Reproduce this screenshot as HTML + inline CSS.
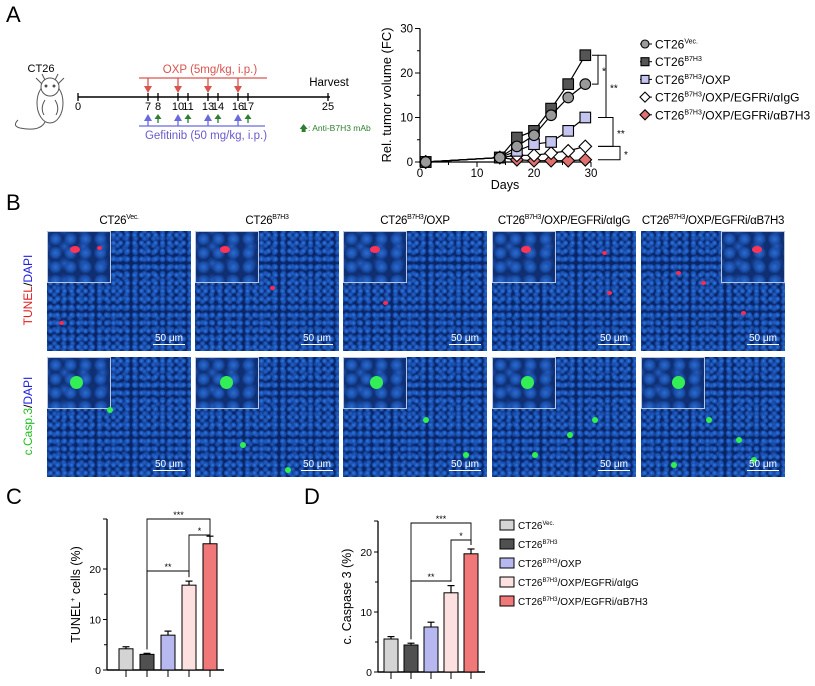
<!DOCTYPE html>
<html><head><meta charset="utf-8">
<style>
body{margin:0;background:#fff;width:815px;height:686px;overflow:hidden;font-family:"Liberation Sans",Arial,sans-serif;}
svg{position:absolute;left:0;top:0}
.img{position:absolute;background-color:#0a2566;
background-image:radial-gradient(circle,#2f7ae0 0,#1c58bd 1.8px,rgba(0,0,0,0) 3.2px),radial-gradient(circle,#2766cc 0,#174aa6 2px,rgba(0,0,0,0) 3.4px),radial-gradient(circle,#1f5ec6 0,#123e92 2.2px,rgba(0,0,0,0) 3.6px);
background-size:7px 8px,9px 7px,11px 10px;background-position:0 0,3px 4px,6px 2px;}
.inset{position:absolute;border:1px solid #b9c6e0;background-color:#0f2f72;
background-image:radial-gradient(circle,#2d6ccc 0,#1b52b0 4px,rgba(0,0,0,0) 7px),radial-gradient(circle,#245fc0 0,#163f90 4px,rgba(0,0,0,0) 7px);background-size:15px 14px,19px 17px;background-position:0 0,7px 6px;}
.spot{position:absolute;border-radius:50%}
.sb{position:absolute;color:#fff;font-size:10px;border-bottom:1.5px solid #fff;padding:0 2px;line-height:11px}
.ttl{position:absolute;font-size:11.5px;letter-spacing:-0.3px;top:214px;text-align:center;white-space:nowrap}
sup{font-size:7px}
</style></head><body>
<div style="position:absolute;left:6px;top:2px;font-size:22px">A</div>
<div style="position:absolute;left:6px;top:190px;font-size:22px">B</div>
<div style="position:absolute;left:6px;top:484px;font-size:22px">C</div>
<div style="position:absolute;left:304px;top:484px;font-size:22px">D</div>

<svg width="815" height="686" id="main">
<g font-size="9.5" text-anchor="middle">
<text x="41" y="72" font-size="11">CT26</text>
<g fill="#fff" stroke="#555" stroke-width="1">
<ellipse cx="50" cy="103" rx="13" ry="20"/><ellipse cx="50" cy="87" rx="9" ry="9"/>
<path d="M42 84 L36 78 M58 84 L64 78 M45 80 L42 74 M55 80 L58 74" fill="none"/>
<path d="M45 100 Q40 108 44 115 M55 100 Q60 108 56 115" fill="none"/>
<path d="M45 122 Q40 132 20 128 Q12 126 18 120" fill="none"/>
<circle cx="46" cy="86" r="1" fill="#333"/><circle cx="54" cy="86" r="1" fill="#333"/></g>
<line x1="78" y1="97" x2="330" y2="97" stroke="#000" stroke-width="1.5"/>
<text x="210" y="73" fill="#d9534f" font-size="11.5">OXP (5mg/kg, i.p.)</text>
<line x1="139" y1="78" x2="267" y2="78" stroke="#d9534f" stroke-width="1.3"/>
<text x="206" y="139" fill="#6a5acd" font-size="11.5">Gefitinib (50 mg/kg, i.p.)</text>
<line x1="139" y1="126" x2="265" y2="126" stroke="#6a6ae0" stroke-width="1.3"/>
<text x="329" y="86" font-size="11.5">Harvest</text>
<text x="335" y="131" fill="#2e7d32" font-size="8.5">🡅: Anti-B7H3 mAb</text>
<g id="tl"></g>
</g>
<g id="lineChart"></g>
<g id="barC"></g>
<g id="barD"></g>
</svg>

<div id="imgs"></div>

<script>
const NS='http://www.w3.org/2000/svg';
function mk(p,tag,at){const e=document.createElementNS(NS,tag);for(const k in at)e.setAttribute(k,at[k]);p.appendChild(e);return e;}
const tlDays=[0,7,8,10,11,13,14,16,17,25];
const oxpDays=[7,10,13,16];
const mabDays=[8,11,14,17];
const tl=document.getElementById('tl');
const tx=d=>78+d*10;
tlDays.forEach(d=>{mk(tl,'line',{x1:tx(d),y1:93,x2:tx(d),y2:101,stroke:'#000','stroke-width':1.3});const t=mk(tl,'text',{x:tx(d),y:110,'font-size':11});t.textContent=d;});
oxpDays.forEach(d=>{mk(tl,'line',{x1:tx(d),y1:78,x2:tx(d),y2:88,stroke:'#d9534f','stroke-width':1.3});mk(tl,'path',{d:`M${tx(d)-4} 86 L${tx(d)+4} 86 L${tx(d)} 93 Z`,fill:'#d9534f'});
 mk(tl,'line',{x1:tx(d),y1:126,x2:tx(d),y2:119,stroke:'#6a6ae0','stroke-width':1.3});mk(tl,'path',{d:`M${tx(d)-4} 121 L${tx(d)+4} 121 L${tx(d)} 114 Z`,fill:'#6a6ae0'});});
mabDays.forEach(d=>{mk(tl,'line',{x1:tx(d),y1:123,x2:tx(d),y2:118,stroke:'#2e7d32','stroke-width':1.3});mk(tl,'path',{d:`M${tx(d)-3.5} 119 L${tx(d)+3.5} 119 L${tx(d)} 114 Z`,fill:'#2e7d32'});});

const days=[1,14,17,20,23,26,29];
const sVec=[0,1,3.5,6,10.5,14.5,17.5];
const sB7=[0,1,5.5,7,12,17.5,24];
const sOxp=[0,1,2.5,4,4.5,7,10];
const sIgG=[0,1,1.5,1.5,2,2.5,3.5];
const sAb=[0,1,0.5,0.3,0.3,0.3,0.5];
const lyTicks=[0,10,20,30];
const lxTicks=[0,10,20,30];
const L=document.getElementById('lineChart');
const lx=d=>420+d*5.7, ly=v=>162-v*4.45;
mk(L,'line',{x1:420,y1:ly(30),x2:420,y2:ly(0),stroke:'#000','stroke-width':1.2});
mk(L,'line',{x1:420,y1:ly(0),x2:lx(30),y2:ly(0),stroke:'#000','stroke-width':1.2});
lyTicks.forEach(v=>{mk(L,'line',{x1:415,y1:ly(v),x2:420,y2:ly(v),stroke:'#000'});const t=mk(L,'text',{x:413,y:ly(v)+4,'font-size':11.5,'text-anchor':'end'});t.textContent=v;});
[5,15,25].forEach(v=>mk(L,'line',{x1:417,y1:ly(v),x2:420,y2:ly(v),stroke:'#000'}));
lxTicks.forEach(v=>{mk(L,'line',{x1:lx(v),y1:ly(0),x2:lx(v),y2:ly(0)+5,stroke:'#000'});const t=mk(L,'text',{x:lx(v),y:177,'font-size':11.5,'text-anchor':'middle'});t.textContent=v;});
[5,15,25].forEach(v=>mk(L,'line',{x1:lx(v),y1:ly(0),x2:lx(v),y2:ly(0)+3,stroke:'#000'}));
let t=mk(L,'text',{x:505,y:189,'font-size':12.5,'text-anchor':'middle'});t.textContent='Days';
t=mk(L,'text',{x:0,y:0,'font-size':13,'text-anchor':'middle',transform:'translate(391,95) rotate(-90)'});t.textContent='Rel. tumor volume (FC)';
function marker(g,shape,x,y,fill,r){
 if(shape==='c')return mk(g,'circle',{cx:x,cy:y,r:r,fill:fill,stroke:'#000','stroke-width':1.1});
 if(shape==='s')return mk(g,'rect',{x:x-r,y:y-r,width:2*r,height:2*r,fill:fill,stroke:'#000','stroke-width':1.1});
 return mk(g,'path',{d:`M${x} ${y-r-1} L${x+r+1} ${y} L${x} ${y+r+1} L${x-r-1} ${y} Z`,fill:fill,stroke:'#000','stroke-width':1.1});}
const series=[['series-ct26-vec',sVec,'c','#9a9a9a'],['series-ct26-b7h3',sB7,'s','#555'],['series-oxp',sOxp,'s','#c4c4f0'],['series-egfri-aigg',sIgG,'d','#fff'],['series-egfri-ab7h3',sAb,'d','#e07070']];
[...series].reverse().forEach(s=>{const g=mk(L,'g',{});
 mk(g,'polyline',{points:days.map((d,i)=>lx(d)+','+ly(s[1][i])).join(' '),fill:'none',stroke:'#000','stroke-width':1.2});
 days.forEach((d,i)=>marker(g,s[2],lx(d),ly(s[1][i]),s[3],5.3));});
function br(g,x,y1,y2,lab,xe){mk(g,'path',{d:`M${xe||x-6} ${y1} H${x} V${y2} H${xe||x-6}`,fill:'none',stroke:'#000','stroke-width':1});const tt=mk(g,'text',{x:x+4,y:(y1+y2)/2+5,'font-size':10});tt.textContent=lab;}
br(L,598,ly(24),ly(17.5),'*');
br(L,606,ly(24),ly(10),'**',598);
br(L,613,ly(10),ly(3.5),'**',598);
br(L,620,ly(3.5),ly(0.5),'*',598);
const legNames=['CT26|Vec.|','CT26|B7H3|','CT26|B7H3|/OXP','CT26|B7H3|/OXP/EGFRi/αIgG','CT26|B7H3|/OXP/EGFRi/αB7H3'];
legNames.forEach((n,i)=>{const y=44+i*17.7;const g=mk(L,'g',{});
 mk(g,'line',{x1:640,y1:y,x2:652,y2:y,stroke:'#000'});marker(g,series[i][2],645,y,series[i][3],4);
 const p=n.split('|');const tt=mk(g,'text',{x:655,y:y+4.5,'font-size':12});tt.appendChild(document.createTextNode(p[0]));const ts=mk(tt,'tspan',{'font-size':7,dy:-5});ts.textContent=p[1];const t2=mk(tt,'tspan',{dy:5});t2.textContent=p[2]||'';});

const barColors=['#d4d4d4','#505050','#b8b8f0','#fde0e0','#f07878'];
const tunelVals=[4.2,3.1,6.9,16.8,25];
const tunelErr=[0.4,0.2,0.8,0.8,1.5];
const caspVals=[5.5,4.5,7.5,13.2,19.7];
const caspErr=[0.4,0.3,0.8,1.2,0.8];
const cTicks=[0,10,20];
const dTicks=[0,10,20];
function barChart(id,vals,errs,ticks,ax,y0,ppu,top,bx,label,lx0,brk){
 const G=document.getElementById(id);const yy=v=>y0-v*ppu;
 mk(G,'line',{x1:ax,y1:top,x2:ax,y2:y0,stroke:'#000','stroke-width':1.3});
 mk(G,'line',{x1:ax,y1:y0,x2:bx[4]+14,y2:y0,stroke:'#000','stroke-width':1.5});
 mk(G,'line',{x1:ax-4,y1:top,x2:ax,y2:top,stroke:'#000'});
 ticks.forEach(v=>{mk(G,'line',{x1:ax-4,y1:yy(v),x2:ax,y2:yy(v),stroke:'#000'});const tt=mk(G,'text',{x:ax-6,y:yy(v)+4,'font-size':10.5,'text-anchor':'end'});tt.textContent=v;});
 [5,15].forEach(v=>{if(yy(v)>top)mk(G,'line',{x1:ax-3,y1:yy(v),x2:ax,y2:yy(v),stroke:'#000'});});
 vals.forEach((v,i)=>{const g=mk(G,'g',{});
  mk(g,'line',{x1:bx[i],y1:yy(v),x2:bx[i],y2:yy(v+errs[i]),stroke:'#000','stroke-width':1.2});
  mk(g,'line',{x1:bx[i]-3.5,y1:yy(v+errs[i]),x2:bx[i]+3.5,y2:yy(v+errs[i]),stroke:'#000','stroke-width':1.2});
  mk(g,'rect',{x:bx[i]-7,y:yy(v),width:14,height:v*ppu,fill:barColors[i],stroke:'#000','stroke-width':1});
  mk(g,'line',{x1:bx[i],y1:y0,x2:bx[i],y2:y0+7,stroke:'#000'});});
 const tt=mk(G,'text',{x:0,y:0,'font-size':12.5,'text-anchor':'middle',transform:`translate(${lx0},${(top+y0)/2}) rotate(-90)`});tt.innerHTML=label;
 function b(i,j,y,lab){mk(G,'path',{d:`M${bx[i]} ${yy(vals[i]+errs[i])-4} V${y} H${bx[j]} V${yy(vals[j]+errs[j])-4}`,fill:'none',stroke:'#000','stroke-width':0.9});const s=mk(G,'text',{x:(bx[i]+bx[j])/2,y:y-1,'font-size':9,'text-anchor':'middle'});s.textContent=lab;}
 b(1,4,brk[0],'***');b(3,4,brk[1],'*');b(1,3,brk[2],'**');}
barChart('barC',tunelVals,tunelErr,cTicks,107,670,5.05,519,[126,147,168,189,210],'TUNEL<tspan font-size="7" dy="-5">+</tspan><tspan dy="5"> cells (%)</tspan>',80,[519,535,571]);
barChart('barD',caspVals,caspErr,dTicks,378,672,6.0,521,[391,411,431,451,471],'c. Caspase 3 (%)',351,[523,540,581]);
const BL=document.getElementById('barD');
legNames.forEach((n,i)=>{const y=525+i*19;const g=mk(BL,'g',{});
 mk(g,'rect',{x:500,y:y-5,width:14,height:10,fill:barColors[i],stroke:'#000','stroke-width':1});
 const p=n.split('|');const tt=mk(g,'text',{x:518,y:y+4,'font-size':10});tt.appendChild(document.createTextNode(p[0]));const ts=mk(tt,'tspan',{'font-size':6,dy:-4});ts.textContent=p[1];const t2=mk(tt,'tspan',{dy:4});t2.textContent=p[2]||'';});

const colX=[47,195,343,492,641];
const rowY=[231,357];
const titles=['CT26<sup>Vec.</sup>','CT26<sup>B7H3</sup>','CT26<sup>B7H3</sup>/OXP','CT26<sup>B7H3</sup>/OXP/EGFRi/αIgG','CT26<sup>B7H3</sup>/OXP/EGFRi/αB7H3'];
const spots=[[[[50,15,'r'],[12,90,'r']],[[60,50,'g']]],[[[75,55,'r']],[[90,110,'g'],[45,85,'g']]],[[[40,70,'r']],[[120,95,'g'],[80,60,'g']]],[[[115,60,'r'],[110,20,'r']],[[75,75,'g'],[40,95,'g'],[100,60,'g']]],[[[35,40,'r'],[100,80,'r'],[60,50,'r']],[[95,80,'g'],[65,60,'g'],[110,100,'g'],[30,105,'g']]]];
const C=document.getElementById('imgs');
colX.forEach((x,c)=>{const d=document.createElement('div');d.className='ttl';d.style.left=(x-14)+'px';d.style.width='172px';d.innerHTML=titles[c];
 
 C.appendChild(d);
 rowY.forEach((y,r)=>{const im=document.createElement('div');im.className='img';im.style.cssText=`left:${x}px;top:${y}px;width:144px;height:120px`;
  
  
  const ins=document.createElement('div');ins.className='inset';const right=(c===4&&r===0);
  ins.style.cssText=`${right?'right:0':'left:0'};top:0;width:62px;height:50px`;
  const isp=document.createElement('div');isp.className='spot';isp.style.cssText=`left:${22+c*2}px;top:${14+r*4}px;width:${r?13:10}px;height:${r?13:7}px;background:${r?'#33ee55':'#ff3355'}`;ins.appendChild(isp);
  im.appendChild(ins);
  spots[c][r].forEach(s=>{const sp=document.createElement('div');sp.className='spot';sp.style.cssText=`left:${s[0]}px;top:${s[1]}px;width:${s[2]==='r'?5:6}px;height:${s[2]==='r'?4:6}px;background:${s[2]==='r'?'#ff2a50':'#30f050'}`;im.appendChild(sp);});
  const sb=document.createElement('div');sb.className='sb';sb.style.cssText+='right:6px;bottom:6px';sb.textContent='50 μm';im.appendChild(sb);
  C.appendChild(im);});});
</script>
<div style="position:absolute;left:-22px;top:283px;width:100px;transform:rotate(-90deg);font-size:12px;text-align:center"><span style="color:#e02020">TUNEL</span>/<span style="color:#2020e0">DAPI</span></div>
<div style="position:absolute;left:-22px;top:409px;width:100px;transform:rotate(-90deg);font-size:12px;text-align:center"><span style="color:#20c020">c.Casp.3</span>/<span style="color:#2020e0">DAPI</span></div>
</body></html>
